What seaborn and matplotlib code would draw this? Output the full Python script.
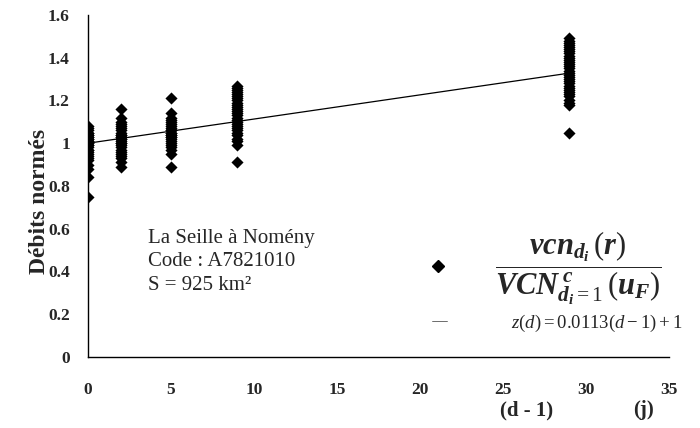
import pandas as pd
import matplotlib.pyplot as plt
import seaborn as sns
from matplotlib.lines import Line2D

# durations (d - 1) in days and normalised flows
d_0 = [0.75, 0.84, 0.88, 0.90, 0.92, 0.93, 0.94, 0.95, 0.96, 0.97, 0.97, 0.98, 0.99, 0.99, 1.00,
       1.00, 1.01, 1.01, 1.02, 1.02, 1.03, 1.03, 1.04, 1.04, 1.05, 1.05, 1.06, 1.07, 1.08]
d_2 = [0.89, 0.91, 0.93, 0.94, 0.95, 0.96, 0.97, 0.98, 0.99, 1.00, 1.00, 1.01, 1.02, 1.02, 1.03,
       1.03, 1.04, 1.04, 1.05, 1.06, 1.07, 1.08, 1.09, 1.10, 1.12, 1.16]
d_5 = [0.89, 0.95, 0.97, 0.98, 0.99, 1.00, 1.01, 1.02, 1.03, 1.03, 1.04, 1.04, 1.05, 1.05, 1.06,
       1.06, 1.07, 1.08, 1.09, 1.10, 1.11, 1.12, 1.14, 1.21]
d_9 = [0.91, 0.99, 1.01, 1.02, 1.04, 1.05, 1.06, 1.07, 1.08, 1.09, 1.10, 1.11, 1.12, 1.13, 1.14,
       1.15, 1.16, 1.17, 1.18, 1.19, 1.20, 1.21, 1.22, 1.23, 1.24, 1.25, 1.26, 1.27]
d_29 = [1.05, 1.18, 1.19, 1.20, 1.22, 1.23, 1.24, 1.25, 1.26, 1.27, 1.28, 1.29, 1.30, 1.31, 1.32,
        1.33, 1.34, 1.35, 1.36, 1.37, 1.38, 1.39, 1.40, 1.41, 1.42, 1.43, 1.44, 1.45, 1.46, 1.47,
        1.48, 1.49]
groups = {0: d_0, 2: d_2, 5: d_5, 9: d_9, 29: d_29}

# regression line z(d) = 0.0113 (d - 1) + 1
fit_x = [0, 29]
fit_y = [1.0, 1.328]

x_ticks = [0, 5, 10, 15, 20, 25, 30, 35]
y_ticks = [0, 0.2, 0.4, 0.6, 0.8, 1.0, 1.2, 1.4, 1.6]
y_labels = ['0', '0.2', '0.4', '0.6', '0.8', '1', '1.2', '1.4', '1.6']

df = pd.DataFrame([(k, v) for k, vals in groups.items() for v in vals], columns=['d', 'q'])

sns.set_style('white')
plt.rcParams['font.family'] = ['Liberation Serif', 'DejaVu Serif']
plt.rcParams['mathtext.fontset'] = 'custom'
plt.rcParams['mathtext.rm'] = 'Liberation Serif'
plt.rcParams['mathtext.it'] = 'Liberation Serif:italic:bold'
plt.rcParams['mathtext.bf'] = 'Liberation Serif:bold'
plt.rcParams['mathtext.sf'] = 'Liberation Serif:italic'

fig = plt.figure(figsize=(7, 4.28), dpi=100)
ax = fig.add_axes([0.1257, 0.166, 0.830, 0.799])

sns.scatterplot(data=df, x='d', y='q', marker='D', color='black', s=38,
                edgecolor='black', linewidth=0, ax=ax, zorder=3)
sns.lineplot(x=fit_x, y=fit_y, color='black', linewidth=0.9, ax=ax, zorder=2)

ax.set_xlim(0, 35)
ax.set_ylim(0, 1.6)
ax.set_xticks(x_ticks)
ax.set_xticklabels([str(t) for t in x_ticks], fontsize=12.5, fontweight='bold')
ax.set_yticks(y_ticks)
ax.set_yticklabels(y_labels, fontsize=12.5, fontweight='bold')
ax.tick_params(axis='x', direction='out', length=4, width=0.8, pad=14, color='black')
ax.tick_params(axis='y', direction='out', length=5, width=0.8, pad=8, color='black')
ax.set_xlabel('')
ax.set_ylabel('Débits normés', fontsize=17, fontweight='bold')
ax.yaxis.set_label_coords(-0.066, 0.456)

for side in ['top', 'right']:
    ax.spines[side].set_visible(False)
for side in ['left', 'bottom']:
    ax.spines[side].set_color('black')
    ax.spines[side].set_linewidth(1.0)

ax.text(3.6, 0.555, 'La Seille à Nomény', fontsize=15, va='center')
ax.text(3.6, 0.445, 'Code : A7821010', fontsize=15, va='center')
ax.text(3.6, 0.335, 'S = 925 km²', fontsize=15, va='center')

fig.text(527 / 700, 1 - 410 / 428, '(d - 1)', fontsize=15, fontweight='bold', ha='center', va='center')
fig.text(644 / 700, 1 - 410 / 428, '(j)', fontsize=15, fontweight='bold', ha='center', va='center')

# legend: one box for the points, one for the fitted line
pts = Line2D([], [], marker='D', linestyle='none', color='black', markersize=6)
fit = Line2D([], [], color='#555555', linewidth=0.6)
leg1 = ax.legend([pts], [r'$\dfrac{vcn_{d_i}\,(r)}{VCN^{\,c}_{d_i=1}\,(u_F)}$'],
                 loc='center left', bbox_to_anchor=(423 / 700, 1 - 268 / 428),
                 bbox_transform=fig.transFigure, frameon=False, fontsize=22,
                 handlelength=1.0, handletextpad=1.37, borderpad=0, borderaxespad=0)
ax.add_artist(leg1)
ax.legend([fit], [r'$\mathsf{z}(\mathsf{d}) = 0.0113(\mathsf{d}-1)+1$'],
          loc='center left', bbox_to_anchor=(432 / 700, 1 - 323 / 428),
          bbox_transform=fig.transFigure, frameon=False, fontsize=13.5,
          handlelength=0.8, handletextpad=3.4, borderpad=0, borderaxespad=0)

fig.savefig('out.png', dpi=100)
